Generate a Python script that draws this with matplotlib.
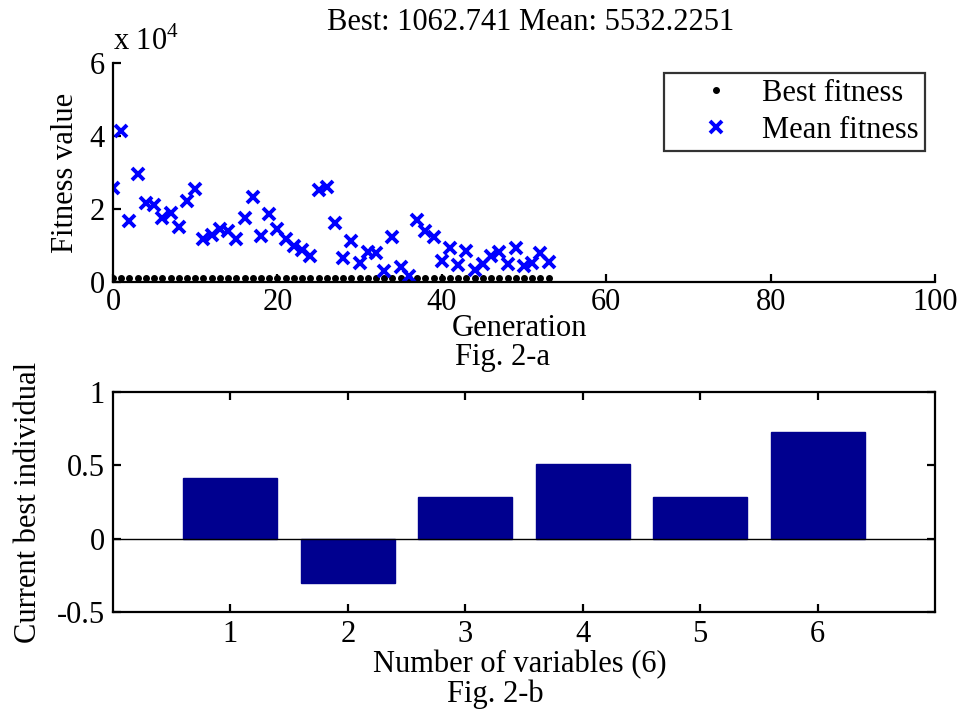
import numpy as np
import matplotlib
matplotlib.use("Agg")
import matplotlib.pyplot as plt

plt.rcParams['font.family'] = ['Liberation Serif', 'DejaVu Serif']
plt.rcParams['mathtext.fontset'] = 'custom'
plt.rcParams['mathtext.rm'] = 'Liberation Serif'

# generation numbers and fitness values (x 10^4)
generations = list(range(54))
mean_fitness = [2.58, 4.13, 1.66, 2.96, 2.17, 2.12, 1.74, 1.90, 1.52, 2.23,
                2.55, 1.17, 1.30, 1.44, 1.39, 1.17, 1.74, 2.34, 1.25, 1.87,
                1.44, 1.17, 1.00, 0.87, 0.71, 2.53, 2.61, 1.63, 0.65, 1.11,
                0.52, 0.82, 0.79, 0.30, 1.22, 0.41, 0.16, 1.71, 1.39, 1.22,
                0.57, 0.92, 0.46, 0.84, 0.33, 0.49, 0.71, 0.82, 0.49, 0.92,
                0.43, 0.52, 0.79, 0.553]
best_fitness = [0.1063, 0.1063, 0.1063, 0.1063, 0.1063, 0.1063, 0.1063, 0.1063, 0.1063,
                0.1063, 0.1063, 0.1063, 0.1063, 0.1063, 0.1063, 0.1063, 0.1063, 0.1063,
                0.1063, 0.1063, 0.1063, 0.1063, 0.1063, 0.1063, 0.1063, 0.1063, 0.1063,
                0.1063, 0.1063, 0.1063, 0.1063, 0.1063, 0.1063, 0.1063, 0.1063, 0.1063,
                0.1063, 0.1063, 0.1063, 0.1063, 0.1063, 0.1063, 0.1063, 0.1063, 0.1063,
                0.1063, 0.1063, 0.1063, 0.1063, 0.1063, 0.1063, 0.1063, 0.1063, 0.1063]
best_val = 1062.741
mean_val = 5532.2251

# current best individual
variables = [1, 2, 3, 4, 5, 6]
individual = [0.417, -0.30, 0.284, 0.51, 0.285, 0.73]

W, H = 963, 710
fig = plt.figure(figsize=(9.63, 7.10), dpi=100)
fs = 22

# ---- top panel: fitness ----
ax1 = fig.add_axes([113/W, 1-282/H, (935-113)/W, (282-63)/H])
ax1.plot(generations, best_fitness, linestyle='none', marker='.', color='black',
         markersize=8, label='Best fitness')
ax1.plot(generations, mean_fitness, linestyle='none', marker='x', color='blue',
         markersize=8, markeredgewidth=2.8, label='Mean fitness')
ax1.set_xlim(0, 100)
ax1.set_ylim(0, 6)
ax1.set_xticks(range(0, 101, 20))
ax1.set_yticks([0, 2, 4, 6])
ax1.spines['top'].set_visible(False)
ax1.spines['right'].set_visible(False)
for s in ('left', 'bottom'):
    ax1.spines[s].set_linewidth(1.6)
ax1.tick_params(direction='in', length=6, width=1.6, labelsize=fs)
ax1.tick_params(axis='x', pad=4)
ax1.tick_params(axis='y', pad=6)
ax1.set_xlabel('Generation', fontsize=fs)
ax1.xaxis.label.set_va('center')
ax1.xaxis.set_label_coords(0.495, (282-329)/219)
ax1.set_ylabel('Fitness value', fontsize=fs)
ax1.yaxis.label.set_va('center')
ax1.yaxis.set_label_coords((65-113)/822, 0.5)
leg = ax1.legend(loc='upper right', bbox_to_anchor=(925/W, 1-73/H),
                 bbox_transform=fig.transFigure, borderaxespad=0, fancybox=False,
                 edgecolor='black', fontsize=fs, handletextpad=0.0, borderpad=0.2,
                 labelspacing=0.25, handlelength=3.0)
leg.get_frame().set_linewidth(1.6)
fig.text(531/W, 1-22/H, 'Best: %.3f Mean: %.4f' % (best_val, mean_val),
         ha='center', va='center', fontsize=fs)
fig.text(113/W, 1-42/H, r'x 10$^{4}$', ha='left', va='center', fontsize=fs)
fig.text(502/W, 1-357/H, 'Fig. 2-a', ha='center', va='center', fontsize=fs)

# ---- bottom panel: current best individual ----
ax2 = fig.add_axes([113/W, 1-612/H, (935-113)/W, (612-392)/H])
ax2.bar(variables, individual, width=0.8, color='#00008F', edgecolor='#00008F')
ax2.axhline(0, color='black', linewidth=1.0)
ax2.set_xlim(0, 7)
ax2.set_ylim(-0.5, 1)
ax2.set_xticks(variables)
ax2.set_yticks([-0.5, 0, 0.5, 1])
ax2.set_yticklabels(['-0.5', '0', '0.5', '1'])
for s in ax2.spines.values():
    s.set_linewidth(1.6)
ax2.tick_params(direction='in', length=6, width=1.6, labelsize=fs, pad=6,
                top=True, right=True)
ax2.set_xlabel('Number of variables (6)', fontsize=fs)
ax2.xaxis.label.set_va('center')
ax2.xaxis.set_label_coords(0.495, (612-665)/220)
ax2.set_ylabel('Current best individual', fontsize=fs)
ax2.yaxis.label.set_va('center')
ax2.yaxis.set_label_coords((28-113)/822, 0.5)
fig.text(495/W, 1-694/H, 'Fig. 2-b', ha='center', va='center', fontsize=fs)

fig.savefig('out.png', dpi=100)
